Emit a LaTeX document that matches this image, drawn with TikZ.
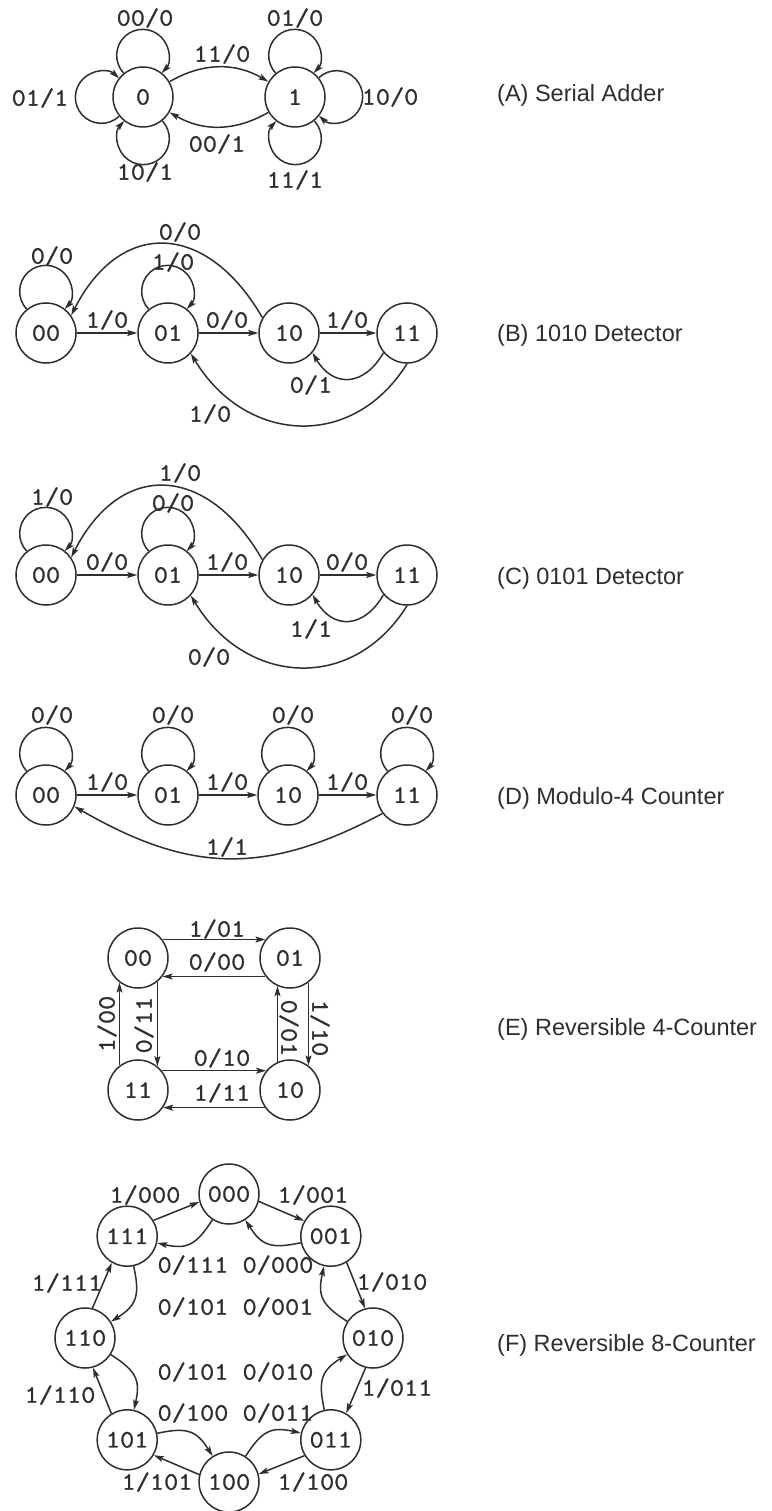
\documentclass[tikz,border=0pt]{standalone}
\usepackage{fontspec}
\setmainfont{Liberation Sans}
\newfontfamily\monof{Latin Modern Mono}[FakeBold=1.2,FakeStretch=1.1]
\usetikzlibrary{arrows.meta}
\definecolor{ink}{gray}{0.18}
\newcommand\mkloop[2]{%
  \pgfmathtruncatemacro\lpA{#2+39}%
  \pgfmathsetmacro\lpB{#2+133}%
  \pgfmathsetmacro\lpC{#2-133}%
  \draw[arr] (#1.\lpA) arc[start angle=\lpB, end angle=\lpC, radius=26pt];}
\begin{document}
\begin{tikzpicture}[x=1pt,y=1pt,
  st/.style={circle, draw=ink, line width=1.5pt, minimum size=60pt, inner sep=0pt, font=\monof\fontsize{25}{25}\selectfont, text=ink},
  lab/.style={inner sep=0pt, font=\monof\fontsize{25}{25}\selectfont, text=ink},
  arr/.style={draw=ink, line width=1.5pt, -{Stealth[length=10pt,width=6pt,inset=2pt]}},
  captxt/.style={anchor=base west, inner sep=0pt, font=\fontsize{23.5}{23.5}\selectfont, text=ink}]
\useasboundingbox (0,0) rectangle (771,-1511);
% ---------- (A)
\node[st] (a0) at (143,-97) {0};
\node[st] (a1) at (295,-97) {1};
\mkloop{a0}{90}\mkloop{a0}{180}\mkloop{a0}{270}
\mkloop{a1}{90}\mkloop{a1}{0}\mkloop{a1}{270}
\draw[arr] (a0) to[out=30,in=150] (a1);
\draw[arr] (a1) to[out=210,in=330] (a0);
\node[lab] (la1) at (145,-18) {00/0};
\node[lab] (la2) at (40,-98) {01/1};
\node[lab] (la3) at (145,-172) {10/1};
\node[lab] (la4) at (295,-18) {01/0};
\node[lab] (la5) at (390,-97) {10/0};
\node[lab] (la6) at (295,-180) {11/1};
\node[lab] (la7) at (222,-54) {11/0};
\node[lab] (la8) at (217,-144) {00/1};
\node[captxt] (capA) at (497,-102) {(A) Serial Adder};
% ---------- (B)
\node[st] (b00) at (46,-333) {00};
\node[st] (b01) at (168,-333) {01};
\node[st] (b10) at (289,-333) {10};
\node[st] (b11) at (407,-333) {11};
\mkloop{b00}{90}\mkloop{b01}{90}
\draw[arr] (b00) -- (b01);
\draw[arr] (b01) -- (b10);
\draw[arr] (b10) -- (b11);
\draw[arr] (b10.150) .. controls +(120:110) and +(63:110) .. (b00.35);
\draw[arr] (b11.220) .. controls +(240:40) and +(300:40) .. (b10.320);
\draw[arr] (b11.270) .. controls +(238:104) and +(301:104) .. (b01.318);
\node[lab] (lb1) at (52,-256) {0/0};
\node[lab] (lb2) at (173,-262) {1/0};
\node[lab] (lb3) at (180,-232) {0/0};
\node[lab] (lb4) at (107,-320) {1/0};
\node[lab] (lb5) at (227,-320) {0/0};
\node[lab] (lb6) at (347,-320) {1/0};
\node[lab] (lb7) at (311,-385) {0/1};
\node[lab] (lb8) at (210,-414) {1/0};
\node[captxt] (capB) at (497,-341) {(B) 1010 Detector};
% ---------- (C)
\node[st] (c00) at (46,-575) {00};
\node[st] (c01) at (168,-575) {01};
\node[st] (c10) at (289,-575) {10};
\node[st] (c11) at (407,-575) {11};
\mkloop{c00}{90}\mkloop{c01}{90}
\draw[arr] (c00) -- (c01);
\draw[arr] (c01) -- (c10);
\draw[arr] (c10) -- (c11);
\draw[arr] (c10.150) .. controls +(120:110) and +(63:110) .. (c00.35);
\draw[arr] (c11.220) .. controls +(240:40) and +(300:40) .. (c10.320);
\draw[arr] (c11.270) .. controls +(238:104) and +(301:104) .. (c01.318);
\node[lab] (lc1) at (52,-497) {1/0};
\node[lab] (lc2) at (173,-503) {0/0};
\node[lab] (lc3) at (180,-473) {1/0};
\node[lab] (lc4) at (107,-562) {0/0};
\node[lab] (lc5) at (227,-562) {1/0};
\node[lab] (lc6) at (347,-562) {0/0};
\node[lab] (lc7) at (311,-629) {1/1};
\node[lab] (lc8) at (209,-657) {0/0};
\node[captxt] (capC) at (497,-584) {(C) 0101 Detector};
% ---------- (D)
\node[st] (d00) at (46,-795) {00};
\node[st] (d01) at (168,-795) {01};
\node[st] (d10) at (288,-795) {10};
\node[st] (d11) at (407,-795) {11};
\mkloop{d00}{90}\mkloop{d01}{90}\mkloop{d10}{90}\mkloop{d11}{90}
\draw[arr] (d00) -- (d01);
\draw[arr] (d01) -- (d10);
\draw[arr] (d10) -- (d11);
\draw[arr] (d11.217) .. controls +(208:133) and +(330:133) .. (d00.338);
\node[lab] (ld1) at (52,-715) {0/0};
\node[lab] (ld2) at (173,-715) {0/0};
\node[lab] (ld3) at (293,-715) {0/0};
\node[lab] (ld4) at (412,-715) {0/0};
\node[lab] (ld5) at (107,-782) {1/0};
\node[lab] (ld6) at (227,-782) {1/0};
\node[lab] (ld7) at (347,-782) {1/0};
\node[lab] (ld8) at (227,-847) {1/1};
\node[captxt] (capD) at (497,-804) {(D) Modulo-4 Counter};
% ---------- (E)
\node[st] (e00) at (138,-958) {00};
\node[st] (e01) at (290,-958) {01};
\node[st] (e11) at (138,-1090) {11};
\node[st] (e10) at (290,-1090) {10};
\draw[arr] (e00.37) -- (e01.143);
\draw[arr] (e01.217) -- (e00.323);
\draw[arr] (e11.39) -- (e10.141);
\draw[arr] (e10.215) -- (e11.325);
\draw[arr] (e11.127) -- (e00.233);
\draw[arr] (e00.309) -- (e11.51);
\draw[arr] (e10.114) -- (e01.246);
\draw[arr] (e01.307) -- (e10.53);
\node[lab] (le1) at (217,-929) {1/01};
\node[lab] (le2) at (217,-962) {0/00};
\node[lab] (le3) at (222,-1058) {0/10};
\node[lab] (le4) at (222,-1093) {1/11};
\node[lab,rotate=90] (le5) at (107,-1024) {1/00};
\node[lab,rotate=90] (le6) at (144,-1025) {0/11};
\node[lab,rotate=-90] (le7) at (289,-1028) {0/01};
\node[lab,rotate=-90] (le8) at (320,-1028) {1/10};
\node[captxt] (capE) at (497,-1035) {(E) Reversible 4-Counter};
% ---------- (F)
\begin{scope}[shift={(229,-1338)}]
\node[st] (f000) at (90:144) {000};
\node[st] (f001) at (45:144) {001};
\node[st] (f010) at (0:144) {010};
\node[st] (f011) at (-45:144) {011};
\node[st] (f100) at (-90:144) {100};
\node[st] (f101) at (-135:144) {101};
\node[st] (f110) at (180:144) {110};
\node[st] (f111) at (135:144) {111};
\end{scope}
\draw[arr] (f000.346) -- (f001.150);
\draw[arr] (f001.301) -- (f010.105);
\draw[arr] (f010.256) -- (f011.60);
\draw[arr] (f011.211) -- (f100.15);
\draw[arr] (f100.166) -- (f101.330);
\draw[arr] (f101.121) -- (f110.285);
\draw[arr] (f110.76) -- (f111.240);
\draw[arr] (f111.31) -- (f000.195);
\draw[arr] (f001) to[out=192.5,in=302.5,looseness=1.3] (f000);
\draw[arr] (f000) to[out=237.5,in=347.5,looseness=1.3] (f111);
\draw[arr] (f111) to[out=282.5,in=32.5,looseness=1.3] (f110);
\draw[arr] (f110) to[out=327.5,in=77.5,looseness=1.3] (f101);
\draw[arr] (f101) to[out=12.5,in=122.5,looseness=1.3] (f100);
\draw[arr] (f100) to[out=57.5,in=167.5,looseness=1.3] (f011);
\draw[arr] (f011) to[out=102.5,in=212.5,looseness=1.3] (f010);
\draw[arr] (f010) to[out=147.5,in=257.5,looseness=1.3] (f001);
\node[lab] (lf1) at (145,-1195) {1/000};
\node[lab] (lf2) at (313,-1195) {1/001};
\node[lab] (lf3) at (193,-1265) {0/111};
\node[lab] (lf4) at (278,-1265) {0/000};
\node[lab] (lf5) at (67,-1283) {1/111};
\node[lab] (lf6) at (392,-1282) {1/010};
\node[lab] (lf7) at (193,-1307) {0/101};
\node[lab] (lf8) at (278,-1307) {0/001};
\node[lab] (lf9) at (193,-1372) {0/101};
\node[lab] (lf10) at (278,-1372) {0/010};
\node[lab] (lf11) at (60,-1395) {1/110};
\node[lab] (lf12) at (397,-1388) {1/011};
\node[lab] (lf13) at (193,-1413) {0/100};
\node[lab] (lf14) at (278,-1413) {0/011};
\node[lab] (lf15) at (157,-1482) {1/101};
\node[lab] (lf16) at (313,-1482) {1/100};
\node[captxt] (capF) at (497,-1351) {(F) Reversible 8-Counter};
\end{tikzpicture}
\end{document}
